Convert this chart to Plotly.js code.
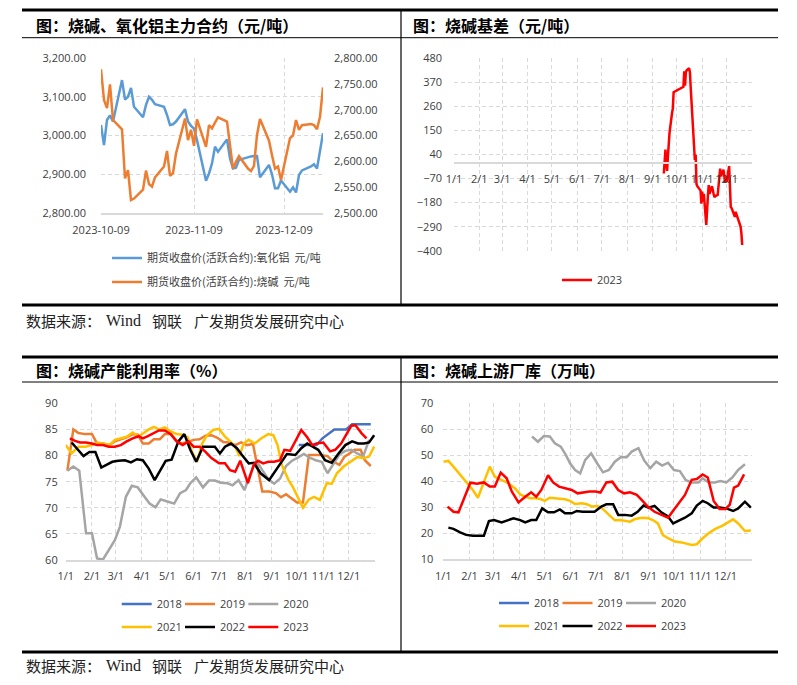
<!DOCTYPE html>
<html><head><meta charset="utf-8">
<script src="https://cdn.plot.ly/plotly-3.0.1.min.js"></script>
<style>html,body{margin:0;padding:0;background:#fff}#chart{width:797px;height:685px}</style>
</head><body><div id="chart"></div>
<script>
// ---------- Panel 1: futures close (active contract) ----------
const futDates = ['2023-10-09','2023-10-10','2023-10-11','2023-10-12','2023-10-13',
 '2023-10-16','2023-10-17','2023-10-18','2023-10-19','2023-10-20',
 '2023-10-23','2023-10-24','2023-10-25','2023-10-26','2023-10-27',
 '2023-10-30','2023-10-31','2023-11-01','2023-11-02','2023-11-03',
 '2023-11-06','2023-11-07','2023-11-08','2023-11-09','2023-11-10',
 '2023-11-13','2023-11-14','2023-11-15','2023-11-16','2023-11-17',
 '2023-11-20','2023-11-21','2023-11-22','2023-11-23','2023-11-24',
 '2023-11-27','2023-11-28','2023-11-29','2023-11-30','2023-12-01',
 '2023-12-04','2023-12-05','2023-12-06','2023-12-07','2023-12-08',
 '2023-12-11','2023-12-12','2023-12-13','2023-12-14','2023-12-15',
 '2023-12-18','2023-12-19','2023-12-20','2023-12-21','2023-12-22'];
const aluminaClose = [3027,2975,3040,3052,3036,
 3143,3093,3100,3123,3074,
 3047,3079,3100,3092,3081,
 3074,3053,3027,3029,3036,
 3068,3036,3025,3018,2988,
 2883,2902,2928,2971,2958,
 2990,2941,2915,2917,2937,
 2945,2946,2947,2947,2892,
 2924,2900,2864,2864,2884,
 2855,2866,2853,2898,2910,
 2920,2926,2915,2960,3006];
const causticClose = [2778,2719,2703,2749,2680,
 2662,2567,2583,2525,2528,
 2545,2582,2556,2551,2569,
 2590,2620,2572,2577,2615,
 2683,2641,2661,2630,2681,
 2628,2670,2664,2675,2685,
 2677,2625,2586,2599,2610,
 2586,2581,2591,2651,2682,
 2640,2612,2586,2590,2564,
 2645,2650,2680,2661,2670,
 2672,2670,2662,2686,2743];
const futTickVals = ['2023-10-09','2023-11-09','2023-12-09'];

// ---------- Panel 2: caustic soda basis 2023 ----------
const basisDates = ['09-15','09-17','09-18','09-19','09-20','09-21','09-22','09-25','09-26','09-27',
 '10-08','10-09','10-10','10-11','10-12','10-13','10-16','10-17','10-18','10-19','10-20',
 '10-23','10-24','10-25','10-26','10-27','10-30','10-31','11-01','11-02','11-03',
 '11-06','11-07','11-08','11-09','11-10','11-13','11-14','11-15','11-16','11-17',
 '11-20','11-21','11-22','11-23','11-24','11-27','11-28','11-29','11-30','12-01',
 '12-04','12-05','12-06','12-07','12-08','12-11','12-12','12-13','12-14','12-15',
 '12-18','12-19','12-20'];
const basis2023 = [-47,62,0,-35,30,100,140,228,250,325,
 345,350,420,355,418,425,435,415,340,275,210,
 15,40,-95,-105,-110,-125,-185,-130,-175,-140,
 -282,-185,-150,-100,-140,-105,-135,-140,-155,-150,
 -145,-100,-70,-25,-60,-30,-55,-90,-60,-85,
 -13,-120,-200,-205,-215,-245,-222,-235,-240,-255,
 -290,-320,-374];

// ---------- Panel 3: capacity utilisation (%) ----------
const util2018Dates = ['10-03','10-10','10-17','10-24','10-31','11-07','11-14','11-21','11-28','12-05','12-12','12-19','12-27'];
const util2018 = [82,82,82,82,83.3,84.2,85,85,85,86,86,86,86];
const util2019Dates = ['01-03','01-10','01-16','01-24','02-01','02-07','02-14','02-21','02-28','03-08','03-14','03-21','03-27','04-02','04-09','04-15','04-22','04-28','05-05','05-12','05-18','05-25','06-01','06-08','06-15','06-22','06-29','07-06','07-13','07-20','07-27','08-03','08-10','08-21','08-29','09-06','09-12','09-18','09-25','10-01','10-08','10-15','10-23','10-29','11-06','11-13','11-20','11-26','12-02','12-08','12-15','12-20','12-27'];
const util2019 = [77.1,85.0,84.3,84.1,84.1,82.3,82.3,82.0,82.7,83.1,83.5,84.1,84.0,82.3,82.3,83.1,83.1,84.1,84.1,82.8,82.3,82.6,83.0,83.1,83.8,83.9,83.4,82.6,82.5,82.0,82.5,82.0,82.2,73.1,73.1,72.8,72.0,72.6,71.8,71.0,71.0,80.1,80.1,80.1,79.9,78.8,78.2,79.8,80.4,81.1,81.1,79.1,78.0];
const util2020Dates = ['01-03','01-10','01-17','01-25','02-01','02-07','02-14','02-22','02-28','03-06','03-13','03-20','03-27','04-04','04-10','04-17','04-23','05-01','05-09','05-16','05-23','05-28','06-04','06-12','06-19','06-26','07-03','07-11','07-17','07-24','07-31','08-07','08-14','08-21','08-28','09-04','09-11','09-18','09-25','10-02','10-09','10-16','10-23','10-30','11-06','11-13','11-20','11-27','12-04','12-11','12-18','12-25'];
const util2020 = [77.1,77.9,77.1,65.1,65.1,60.3,60.1,62.2,63.8,66.4,72.1,74.2,73.9,72.1,70.8,70.1,71.6,71.2,70.8,72.8,73.4,74.7,75.8,73.9,75.2,75.2,74.8,74.7,74.3,75.3,73.4,76.5,79.0,77.2,75.5,74.6,75.6,78.0,79.0,79.6,80.3,79.6,79.1,78.8,76.6,78.4,80.2,80.9,81.1,80.4,79.8,83.0];
const util2021Dates = ['01-01','01-08','01-16','01-24','02-01','02-07','02-14','02-22','02-28','03-08','03-14','03-21','03-28','04-03','04-09','04-15','04-21','04-28','05-05','05-12','05-19','05-25','05-30','06-05','06-11','06-17','06-24','07-01','07-08','07-14','07-20','07-25','07-30','08-05','08-12','08-20','08-28','09-03','09-08','09-13','09-21','09-26','10-03','10-08','10-15','10-21','10-28','11-05','11-11','11-17','11-25','12-03','12-11','12-19','12-25','12-31'];
const util2021 = [82.0,80.4,81.7,81.7,82.0,82.5,82.3,82.0,83.0,83.3,83.6,84.4,83.7,84.3,85.0,85.5,85.0,85.4,84.6,84.1,84.0,83.5,80.7,78.8,82.3,83.9,84.9,85.1,83.6,82.7,81.7,79.9,82.3,83.0,82.3,83.3,84.1,83.9,82.0,78.2,75.3,74.0,71.5,70.0,71.6,72.1,71.5,74.7,74.6,76.6,77.9,78.8,79.7,79.5,79.8,81.7];
const util2022Dates = ['01-08','01-15','01-22','01-29','02-05','02-12','02-18','02-25','03-04','03-12','03-19','03-26','04-02','04-09','04-16','04-22','04-29','05-06','05-14','05-21','05-28','06-04','06-12','06-20','06-26','07-02','07-08','07-15','07-22','07-28','08-05','08-11','08-19','08-29','09-05','09-12','09-19','09-29','10-06','10-13','10-20','10-26','11-03','11-11','11-19','11-27','12-05','12-12','12-19','12-25','12-31'];
const util2022 = [82.5,81.2,79.9,80.7,80.7,77.7,78.2,78.8,79.0,79.1,78.7,79.3,79.1,77.5,75.3,76.9,79.0,79.2,82.7,84.1,81.1,78.8,81.7,81.7,81.7,80.4,81.7,82.3,81.4,80.1,78.5,78.6,76.6,75.3,76.9,78.5,80.3,80.1,81.4,82.3,81.7,81.1,79.1,78.6,80.4,82.0,82.7,82.3,82.3,82.5,83.9];
const util2023Dates = ['01-06','01-12','01-18','01-25','02-01','02-07','02-14','02-21','02-28','03-07','03-14','03-21','03-28','04-02','04-08','04-15','04-21','04-28','05-05','05-12','05-19','05-26','06-01','06-08','06-15','06-22','07-01','07-08','07-14','07-20','07-26','08-04','08-11','08-16','08-22','08-28','09-04','09-11','09-16','09-23','09-29','10-06','10-13','10-19','10-24','11-01','11-09','11-15','11-22','11-29','12-04','12-09','12-16','12-22'];
const util2023 = [83.3,82.8,82.5,82.5,82.3,82.0,82.0,81.7,81.7,82.0,82.7,83.3,83.7,83.3,83.7,84.3,84.8,84.8,84.1,82.7,82.0,82.7,81.7,81.7,80.7,79.5,78.5,78.5,77.2,76.9,79.0,74.7,78.3,79.0,78.5,78.8,78.8,79.1,81.1,80.9,82.7,84.9,83.5,82.0,82.3,82.5,80.8,81.1,82.3,84.3,85.7,85.8,84.3,83.3];

// ---------- Panel 4: upstream factory inventory (10k t) ----------
const inv2018Dates = []; const inv2018 = [];
const inv2019Dates = []; const inv2019 = [];
const inv2020Dates = ['04-16','04-23','04-30','05-07','05-13','05-20','05-26','05-31','06-06','06-12','06-18','06-25','07-02','07-09','07-16','07-23','07-30','08-06','08-12','08-20','08-27','09-03','09-10','09-17','09-24','10-01','10-08','10-15','10-22','10-30','11-04','11-11','11-18','11-25','12-02','12-09','12-16','12-24'];
const inv2020 = [57.2,55.2,57.4,57.2,54.6,53.3,50.1,46.9,44.3,43.0,48.2,50.7,46.9,43.4,44.3,47.5,49.2,49.2,51.4,52.7,47.8,45.0,47.5,46.0,47.1,44.3,43.9,40.4,39.5,39.5,41.1,39.5,39.5,40.0,39.5,41.4,44.3,46.5];
const inv2021Dates = ['01-01','01-07','01-13','01-21','01-30','02-05','02-11','02-18','02-25','03-03','03-11','03-19','03-27','04-02','04-08','04-14','04-20','04-26','05-01','05-07','05-13','05-19','05-25','05-31','06-06','06-14','06-20','06-26','07-03','07-08','07-15','07-23','07-29','08-04','08-10','08-16','08-24','09-01','09-06','09-12','09-18','09-24','10-02','10-10','10-16','10-22','10-28','11-03','11-11','11-19','11-27','12-03','12-10','12-16','12-24','12-31'];
const inv2021 = [47.5,47.8,45.6,42.6,39.2,36.6,33.6,39.8,45.6,41.7,40.4,39.2,37.2,34.9,34.0,33.4,33.4,33.1,32.4,33.6,33.4,33.1,33.0,32.4,31.2,31.5,31.1,30.2,30.4,29.5,27.2,24.9,25.0,24.6,24.4,25.4,25.9,25.7,25.0,23.7,19.2,18.0,16.7,16.4,16.0,15.4,15.7,17.7,19.9,21.6,22.8,24.1,25.3,23.7,20.8,21.0];
const inv2022Dates = ['01-07','01-13','01-21','01-28','02-05','02-11','02-18','02-24','03-02','03-11','03-18','03-25','04-02','04-08','04-15','04-21','04-28','05-05','05-12','05-19','05-25','06-02','06-08','06-15','06-23','06-29','07-07','07-13','07-21','07-27','08-04','08-12','08-19','08-26','09-01','09-08','09-16','09-24','09-30','10-06','10-14','10-22','10-28','11-04','11-10','11-17','11-24','12-02','12-10','12-16','12-24','12-31'];
const inv2022 = [22.1,21.6,20.3,19.3,19.0,18.9,19.0,24.6,25.0,24.1,25.0,25.7,25.0,24.1,25.0,25.0,29.5,28.0,28.0,29.1,27.6,27.6,28.5,28.2,28.2,28.2,30.2,31.1,31.1,27.0,27.0,26.7,28.2,30.6,29.8,30.5,28.0,26.4,23.7,24.6,25.9,27.6,30.6,32.4,31.5,29.8,29.8,29.5,28.5,29.5,32.1,29.8];
const inv2023Dates = ['01-06','01-13','01-19','01-26','02-02','02-10','02-18','02-25','03-03','03-10','03-17','03-23','03-31','04-08','04-15','04-21','04-27','05-05','05-11','05-18','05-25','06-02','06-09','06-17','06-23','06-30','07-06','07-13','07-20','07-27','08-03','08-10','08-18','08-24','08-31','09-08','09-16','09-24','10-02','10-08','10-14','10-22','10-28','11-04','11-10','11-17','11-24','12-01','12-06','12-11','12-16','12-23'];
const inv2023 = [30.2,28.2,28.0,34.0,39.4,39.0,39.5,37.9,37.9,43.3,41.1,36.0,31.8,34.0,35.7,34.0,36.6,42.3,39.5,37.9,37.2,36.6,35.3,35.7,36.0,36.0,35.6,39.5,39.8,36.6,35.3,35.7,34.7,32.7,30.2,28.2,27.0,25.9,29.5,32.0,34.7,40.5,40.8,42.6,41.4,32.4,29.3,29.3,30.9,37.5,38.3,42.6];

// ---------- shared tick labels ----------
const monthTickVals = ['01-01','02-01','03-01','04-01','05-01','06-01','07-01','08-01','09-01','10-01','11-01','12-01'];
const monthTickText = ['1/1','2/1','3/1','4/1','5/1','6/1','7/1','8/1','9/1','10/1','11/1','12/1'];

const yearNames = ['2018','2019','2020','2021','2022','2023'];
const yearColors = ['#4472C4','#ED7D31','#A5A5A5','#FFC000','#000000','#FF0000'];

// ---------- layout helpers (pixel -> paper) ----------
const W = 797, H = 685;
const px = v => v / W;
const py = v => 1 - v / H;
const toDate = arr => arr.map(d => '2023-' + d);
const axisTicks = toDate(monthTickVals).concat(['2024-01-01']);
const axisText = monthTickText.concat(['']);

const tickFont = {family: 'Open Sans, Noto Sans CJK SC, sans-serif', size: 11, color: '#404040'};
const gridCol = '#D9D9D9';
const gridDash = '4px,3px';

function legendAt(x, y, extra) {
  return Object.assign({x: px(x), y: py(y), xanchor: 'left', yanchor: 'middle', orientation: 'h',
    bgcolor: 'rgba(0,0,0,0)', borderwidth: 0, font: {family: 'Open Sans, Noto Sans CJK SC, sans-serif', size: 11, color: '#404040'},
    traceorder: 'normal', itemclick: false}, extra || {});
}

const traces = [];
const legends = {};
traces.push({x: futDates, y: aluminaClose, type: 'scatter', mode: 'lines', name: '期货收盘价(活跃合约):氧化铝  元/吨',
  line: {color: '#5B9BD5', width: 2.5}, xaxis: 'x', yaxis: 'y', legend: 'legend'});
traces.push({x: futDates, y: causticClose, type: 'scatter', mode: 'lines', name: '期货收盘价(活跃合约):烧碱  元/吨',
  line: {color: '#ED7D31', width: 2.5}, xaxis: 'x', yaxis: 'y2', legend: 'legend2'});
traces.push({x: toDate(basisDates), y: basis2023, type: 'scatter', mode: 'lines', name: '2023',
  line: {color: '#FF0000', width: 2.5}, xaxis: 'x2', yaxis: 'y3', legend: 'legend3'});
const cjkLegendFont = {family: 'Noto Sans CJK SC, sans-serif', size: 11, color: '#404040'};
legends.legend = legendAt(107, 258, {font: cjkLegendFont});
legends.legend2 = legendAt(107, 282, {font: cjkLegendFont});
legends.legend3 = legendAt(557, 280);

const utilSets = [[util2018Dates, util2018],[util2019Dates, util2019],[util2020Dates, util2020],
                  [util2021Dates, util2021],[util2022Dates, util2022],[util2023Dates, util2023]];
const invSets = [[inv2018Dates, inv2018],[inv2019Dates, inv2019],[inv2020Dates, inv2020],
                 [inv2021Dates, inv2021],[inv2022Dates, inv2022],[inv2023Dates, inv2023]];
let legNo = 4;
function addYearPanel(sets, xa, ya, x0, step, rowY) {
  sets.forEach((s, i) => {
    const key = 'legend' + legNo++;
    const empty = s[0].length === 0;
    traces.push({x: empty ? [null] : toDate(s[0]), y: empty ? [null] : s[1], type: 'scatter', mode: 'lines',
      name: yearNames[i], line: {color: yearColors[i], width: 2.5}, xaxis: xa, yaxis: ya, legend: key});
    legends[key] = legendAt(x0 + step * (i % 3), rowY[i < 3 ? 0 : 1]);
  });
}
addYearPanel(utilSets, 'x3', 'y4', 116.7, 63.3, [604, 627]);
addYearPanel(invSets, 'x4', 'y5', 494, 63.5, [603, 626]);

// domains
const d1x = [px(101), px(323)], d1y = [py(213), py(58)];
const d2x = [px(454), px(752)], d2y = [py(250.7), py(58.3)];
const d3x = [px(65.7), px(375)], d3y = [py(560), py(403.3)];
const d4x = [px(443.3), px(751.7)], d4y = [py(559), py(403.3)];
const basisRange = [-400, 480];
const zeroPos = d2y[0] + (d2y[1] - d2y[0]) * (0 - basisRange[0]) / (basisRange[1] - basisRange[0]);

const baseAxis = {automargin: false, tickfont: tickFont, showgrid: true, gridcolor: gridCol, griddash: gridDash,
  gridwidth: 1, zeroline: false, ticks: '', fixedrange: true, tickangle: 0};

const titleFont = {family: 'Noto Sans CJK SC, sans-serif', size: 16, color: '#000000', weight: 700};
const srcFont = {family: 'Noto Sans CJK SC, sans-serif', size: 15, color: '#222222'};
const srcFontLatin = {family: 'Liberation Serif, serif', size: 16, color: '#222222'};
function ann(text, x, y, font) {
  return {text: text, x: px(x), y: py(y), xref: 'paper', yref: 'paper', xanchor: 'left', yanchor: 'middle',
    showarrow: false, font: font};
}
function hline(x0, x1, y, w) {
  return {type: 'line', xref: 'paper', yref: 'paper', x0: px(x0), x1: px(x1), y0: py(y), y1: py(y), line: {color: '#000', width: w}};
}
function vline(x, y0, y1, w) {
  return {type: 'line', xref: 'paper', yref: 'paper', x0: px(x), x1: px(x), y0: py(y0), y1: py(y1), line: {color: '#000', width: w}};
}

const layout = Object.assign({
  width: W, height: H, margin: {l: 0, r: 0, t: 0, b: 0}, paper_bgcolor: '#fff', plot_bgcolor: 'rgba(0,0,0,0)',
  font: {family: 'Open Sans, Noto Sans CJK SC, sans-serif', size: 11, color: '#404040'},
  showlegend: true, hovermode: false,
  xaxis: Object.assign({}, baseAxis, {domain: d1x, anchor: 'y', type: 'date', range: ['2023-10-09', '2023-12-22'],
    tickvals: futTickVals, tickformat: '%Y-%m-%d', showline: true, linecolor: gridCol, linewidth: 1.5, ticklabelstandoff: 6}),
  yaxis: Object.assign({}, baseAxis, {domain: d1y, anchor: 'x', range: [2800, 3200], dtick: 100, tick0: 2800,
    tickformat: ',.2f', ticklabelstandoff: 14}),
  yaxis2: Object.assign({}, baseAxis, {overlaying: 'y', side: 'right', anchor: 'x', range: [2500, 2800], dtick: 50, tick0: 2500,
    tickformat: ',.2f', showgrid: false, ticklabelstandoff: 10}),
  xaxis2: Object.assign({}, baseAxis, {domain: d2x, anchor: 'free', position: zeroPos, type: 'date', range: ['2023-01-01', '2024-01-01'],
    tickvals: axisTicks, ticktext: axisText, showline: true, linecolor: gridCol, linewidth: 2, ticklabelstandoff: 6}),
  yaxis3: Object.assign({}, baseAxis, {domain: d2y, anchor: 'x2', range: basisRange, dtick: 110, tick0: -400, ticklabelstandoff: 11}),
  xaxis3: Object.assign({}, baseAxis, {domain: d3x, anchor: 'y4', type: 'date', range: ['2023-01-01', '2024-01-01'],
    tickvals: axisTicks, ticktext: axisText, showline: true, linecolor: gridCol, linewidth: 1.5, ticklabelstandoff: 5}),
  yaxis4: Object.assign({}, baseAxis, {domain: d3y, anchor: 'x3', range: [60, 90], dtick: 5, tick0: 60, ticklabelstandoff: 7}),
  xaxis4: Object.assign({}, baseAxis, {domain: d4x, anchor: 'y5', type: 'date', range: ['2023-01-01', '2024-01-01'],
    tickvals: axisTicks, ticktext: axisText, showline: true, linecolor: gridCol, linewidth: 1.5, ticklabelstandoff: 6}),
  yaxis5: Object.assign({}, baseAxis, {domain: d4y, anchor: 'x4', range: [10, 70], dtick: 10, tick0: 10, ticklabelstandoff: 9}),
  annotations: [
    ann('图：烧碱、氧化铝主力合约（元/吨）', 34, 25, titleFont),
    ann('图：烧碱基差（元/吨）', 411, 25, titleFont),
    ann('图：烧碱产能利用率（%）', 34, 370, titleFont),
    ann('图：烧碱上游厂库（万吨）', 411, 370, titleFont),
    ann('数据来源：', 24, 320, srcFont), ann('Wind', 104, 320, srcFontLatin), ann('钢联', 150, 320, srcFont),
    ann('广发期货发展研究中心', 192, 320, srcFont),
    ann('数据来源：', 24, 665, srcFont), ann('Wind', 104, 665, srcFontLatin), ann('钢联', 150, 665, srcFont),
    ann('广发期货发展研究中心', 192, 665, srcFont)
  ],
  shapes: [
    hline(22, 778, 10, 3), hline(22, 778, 37.7, 1), vline(401, 10, 305, 1.2), hline(22, 778, 305, 3),
    hline(22, 778, 357, 3), hline(22, 778, 382, 1), vline(401, 357, 652, 1.2), hline(22, 778, 652, 3)
  ]
}, legends);

Plotly.newPlot('chart', traces, layout, {staticPlot: true, displayModeBar: false});
</script>
</body></html>
